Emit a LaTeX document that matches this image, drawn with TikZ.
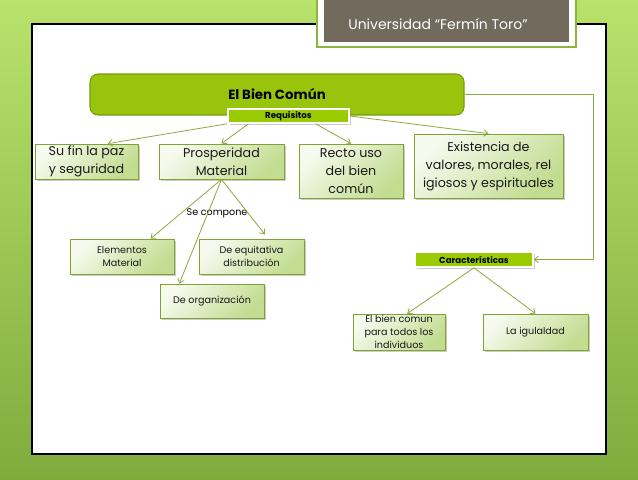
\documentclass[tikz,border=0pt]{standalone}
\usepackage{fontspec}
\setmainfont{Poppins}
\usetikzlibrary{shadows,arrows.meta}
\definecolor{bgtop}{RGB}{184,226,108}
\definecolor{bgbot}{RGB}{128,172,62}
\definecolor{titlebg}{RGB}{115,106,94}
\definecolor{titleline}{RGB}{140,182,60}
\definecolor{maingreen}{RGB}{153,196,12}
\definecolor{mainline}{RGB}{118,156,18}
\definecolor{taggreen}{RGB}{153,204,0}
\definecolor{boxline}{RGB}{128,162,50}
\definecolor{boxtop}{RGB}{246,250,238}
\definecolor{boxbot}{RGB}{194,220,144}
\definecolor{conncol}{RGB}{138,170,60}

\begin{document}
\begin{tikzpicture}[x=0.75pt,y=-0.75pt,
        conn/.style={draw=conncol,line width=0.6pt,-{Straight Barb[length=3pt,width=5pt]}},
        box/.style={draw=boxline,line width=0.6pt,top color=boxtop,bottom color=boxbot,shading angle=45,
            drop shadow={shadow xshift=1.5pt,shadow yshift=-1.5pt,opacity=0.4},inner sep=0pt,align=center,text=black!90},
        bigbox/.style={box,font=\fontsize{9.5}{13.5}\selectfont},
        smallbox/.style={box,font=\fontsize{7.2}{9.6}\selectfont},
        tag/.style={draw=white,line width=1.2pt,fill=taggreen,inner sep=0pt,
            font=\bfseries\fontsize{6.5}{8}\selectfont,drop shadow={shadow xshift=1.2pt,shadow yshift=-1.2pt,opacity=0.4}}]
        \useasboundingbox (0,0) rectangle (638,479);
        \fill[top color=bgtop,bottom color=bgbot](0,0) rectangle (638,479);
        \draw[line width=0.8pt,fill=white](32,24) rectangle (606,454);
        \draw[titleline,line width=0.8pt,fill=white](317,-5) rectangle (576,47);
        \fill[titlebg](324,-5) rectangle (569,42);
        \node[text=white,font=\fontsize{10.5}{12}\selectfont] (title) at (438,24) {Universidad “Fermín Toro”};

        \node[draw=mainline,line width=0.8pt,fill=maingreen,rounded corners=6pt,minimum width=280.5pt,minimum height=30.75pt,
            font=\bfseries\fontsize{10}{12}\selectfont] (bien) at (277,94.5) {El Bien Común};
        \node[tag,minimum width=90.75pt,minimum height=10.5pt] (req) at (288.5,116) {Requisitos};

        \node[bigbox,minimum width=77.25pt,minimum height=26.25pt] (fin) at (86.5,161.5) {Su fin la paz\\y seguridad};
        \node[bigbox,minimum width=93.75pt,minimum height=26.25pt] (prosp) at (221.5,161.5) {Prosperidad\\Material};
        \node[bigbox,minimum width=78pt,minimum height=40.5pt] (recto) at (351,171) {Recto uso\\del bien\\común};
        \node[bigbox,minimum width=111.75pt,minimum height=48pt] (valores) at (488.5,166) {Existencia de\\valores, morales, rel\\igiosos y espirituales};

        \node[font=\fontsize{7.2}{9}\selectfont] (compone) at (217,213) {Se compone};
        \node[smallbox,minimum width=78pt,minimum height=26.25pt] (elem) at (122,256.5) {Elementos\\Material};
        \node[smallbox,minimum width=78.75pt,minimum height=26.25pt] (equit) at (251.5,256.5) {De equitativa\\distribución};
        \node[smallbox,minimum width=78pt,minimum height=25.5pt] (org) at (212,301) {De organización};

        \node[tag,minimum width=88.5pt,minimum height=11.25pt] (carac) at (474,259.5) {Características};
        \node[smallbox,minimum width=69pt,minimum height=27pt] (todos) at (399,332) {El bien comun\\para todos los\\individuos};
        \node[smallbox,minimum width=78.75pt,minimum height=27pt] (igual) at (535.5,332) {La igulaldad};
        \coordinate (turn) at (593,259.5);

        \draw[conn](req.south west)--(fin.40);
        \draw[conn](req.191)--(prosp.north);
        \draw[conn](req.344)--(recto.north);
        \draw[conn](req.east)--(valores.north);
        \draw[conn](prosp.south)--(elem.32);
        \draw[conn,shorten >=4pt](prosp.south)--(equit.47);
        \draw[conn](prosp.south)--(org.152);
        \draw[conn](bien.east)-|(turn)--(carac.east);
        \draw[conn](carac.south)--(todos.66);
        \draw[conn](carac.south)--(igual.north);
    \end{tikzpicture}
\end{document}
